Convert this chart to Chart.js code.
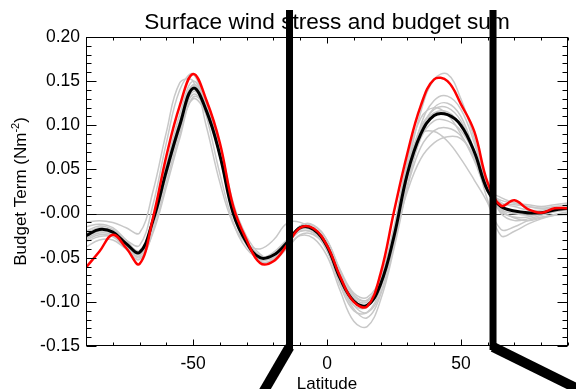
<!DOCTYPE html>
<html>
<head>
<meta charset="utf-8">
<title>Surface wind stress and budget sum</title>
<script src="https://cdn.jsdelivr.net/npm/chart.js@4/dist/chart.umd.min.js"></script>
<style>
  html, body { margin: 0; padding: 0; background: #ffffff; }
  #budget { display: block; }
</style>
</head>
<body>
<canvas id="budget" width="576" height="389"></canvas>
<script>
// Latitude grid (degrees) shared by every curve
const latitudes = [
  -90, -85, -80, -75, -70, -65, -60, -55, -50, -45, -40, -35, -30,
  -25, -20, -15, -10, -5, 0, 5, 10, 15, 20, 25, 30, 35, 40, 45, 50,
  55, 60, 65, 70, 75, 80, 85, 90
];

// Observed surface wind stress (red)
const observed = [
  -0.061, -0.043, -0.024, -0.039, -0.057, -0.005, 0.065, 0.122, 0.158, 0.128, 0.080, 0.008, -0.030,
  -0.056, -0.054, -0.036, -0.016, -0.017, -0.036, -0.072, -0.100, -0.105, -0.068, 0.002, 0.068, 0.122,
  0.152, 0.150, 0.124, 0.093, 0.035, 0.009, 0.015, 0.005, 0.001, 0.006, 0.006
];

// Ensemble mean budget sum (black)
const ensembleMean = [
  -0.025, -0.018, -0.021, -0.034, -0.044, -0.008, 0.048, 0.100, 0.142, 0.116, 0.066, 0.000, -0.033,
  -0.050, -0.047, -0.033, -0.016, -0.018, -0.037, -0.074, -0.099, -0.104, -0.080, -0.026, 0.045, 0.090,
  0.111, 0.112, 0.100, 0.070, 0.026, 0.008, 0.003, 0.001, 0.001, 0.004, 0.006
];

// Individual model budget sums (grey)
const run01 = [
  -0.020, -0.014, -0.018, -0.030, -0.036, 0.010, 0.080, 0.140, 0.158, 0.110, 0.045, -0.010, -0.040,
  -0.050, -0.044, -0.030, -0.020, -0.022, -0.042, -0.082, -0.110, -0.112, -0.085, -0.030, 0.050, 0.115,
  0.152, 0.158, 0.130, 0.085, 0.030, 0.012, 0.010, 0.008, 0.006, 0.005, 0.005
];
const run02 = [
  -0.030, -0.024, -0.026, -0.040, -0.052, -0.020, 0.035, 0.090, 0.130, 0.112, 0.065, 0.004, -0.032,
  -0.052, -0.050, -0.035, -0.020, -0.022, -0.040, -0.078, -0.108, -0.118, -0.092, -0.035, 0.040, 0.100,
  0.128, 0.133, 0.118, 0.080, 0.030, 0.005, 0.000, -0.002, 0.000, 0.003, 0.004
];
const run03 = [
  -0.038, -0.030, -0.030, -0.040, -0.048, -0.015, 0.042, 0.095, 0.135, 0.118, 0.070, 0.008, -0.030,
  -0.048, -0.050, -0.038, -0.025, -0.028, -0.048, -0.088, -0.122, -0.128, -0.098, -0.040, 0.030, 0.090,
  0.120, 0.125, 0.110, 0.070, 0.015, -0.018, -0.015, -0.008, -0.004, -0.002, -0.001
];
const run04 = [
  -0.015, -0.012, -0.016, -0.030, -0.045, -0.005, 0.055, 0.112, 0.150, 0.122, 0.068, 0.000, -0.035,
  -0.052, -0.048, -0.032, -0.015, -0.016, -0.034, -0.070, -0.096, -0.100, -0.075, -0.018, 0.060, 0.108,
  0.120, 0.112, 0.090, 0.060, 0.025, 0.015, 0.012, 0.010, 0.008, 0.010, 0.012
];
const run05 = [
  -0.028, -0.022, -0.024, -0.036, -0.046, -0.012, 0.045, 0.098, 0.138, 0.120, 0.072, 0.006, -0.030,
  -0.048, -0.047, -0.034, -0.018, -0.020, -0.038, -0.074, -0.100, -0.104, -0.080, -0.030, 0.030, 0.075,
  0.094, 0.097, 0.088, 0.062, 0.025, 0.004, -0.005, -0.008, -0.005, -0.001, 0.002
];
const run06 = [
  -0.022, -0.016, -0.020, -0.032, -0.042, -0.006, 0.052, 0.105, 0.145, 0.118, 0.064, -0.002, -0.036,
  -0.052, -0.048, -0.033, -0.014, -0.014, -0.030, -0.064, -0.090, -0.095, -0.072, -0.015, 0.055, 0.090,
  0.093, 0.082, 0.062, 0.038, 0.012, -0.025, -0.020, -0.012, -0.006, -0.002, 0.000
];
const run07 = [
  -0.026, -0.020, -0.022, -0.034, -0.043, -0.010, 0.045, 0.098, 0.140, 0.118, 0.068, 0.002, -0.032,
  -0.050, -0.048, -0.034, -0.017, -0.019, -0.036, -0.070, -0.094, -0.098, -0.076, -0.028, 0.025, 0.062,
  0.080, 0.087, 0.085, 0.065, 0.032, 0.000, -0.008, -0.006, -0.002, 0.002, 0.004
];
const run08 = [
  -0.010, -0.008, -0.010, -0.016, -0.022, 0.025, 0.092, 0.148, 0.150, 0.098, 0.035, -0.012, -0.034,
  -0.040, -0.030, -0.011, -0.010, -0.020, -0.042, -0.078, -0.104, -0.106, -0.082, -0.026, 0.045, 0.095,
  0.118, 0.120, 0.105, 0.070, 0.028, 0.018, 0.012, 0.008, 0.006, 0.008, 0.010
];
const run09 = [
  -0.032, -0.026, -0.026, -0.036, -0.050, -0.022, 0.030, 0.085, 0.132, 0.120, 0.078, 0.012, -0.026,
  -0.046, -0.052, -0.040, -0.024, -0.024, -0.040, -0.076, -0.104, -0.112, -0.090, -0.036, 0.032, 0.085,
  0.105, 0.105, 0.094, 0.068, 0.028, 0.002, -0.004, -0.004, 0.000, 0.004, 0.006
];
const run10 = [
  -0.024, -0.018, -0.020, -0.036, -0.048, -0.010, 0.050, 0.104, 0.146, 0.124, 0.072, 0.004, -0.034,
  -0.054, -0.052, -0.036, -0.014, -0.013, -0.030, -0.066, -0.092, -0.098, -0.076, -0.022, 0.048, 0.098,
  0.114, 0.115, 0.100, 0.072, 0.030, 0.012, 0.008, 0.004, 0.004, 0.006, 0.008
];
const modelRuns = [run01, run02, run03, run04, run05, run06, run07, run08, run09, run10];

// Labelled (major) ticks; the other ticks are unlabelled minors
const xMajorTicks = [-50, 0, 50];
const xTickLabels = ["-50", "0", "50"];
const yMajorTicks = [-0.15, -0.10, -0.05, 0.00, 0.05, 0.10, 0.15, 0.20];
const yTickLabels = ["-0.15", "-0.10", "-0.05", "-0.00", "0.05", "0.10", "0.15", "0.20"];

// Latitudes of the two section markers drawn over the plot
const markerLatitudes = [-14, 62];

const FONT = '"Liberation Sans", Arial, Helvetica, sans-serif';

const toPoints = (values) => latitudes.map((lat, i) => ({ x: lat, y: values[i] }));

const labelFor = (value, majors, labels) => {
  const i = majors.findIndex((m) => Math.abs(m - value) < 1e-6);
  return i >= 0 ? labels[i] : "";
};

const datasets = [
  { label: "Observed", data: toPoints(observed), borderColor: "#ff0000", borderWidth: 2.5 },
  { label: "Ensemble mean", data: toPoints(ensembleMean), borderColor: "#000000", borderWidth: 3 },
];
modelRuns.forEach((run, i) => {
  datasets.push({
    label: "Model " + (i + 1),
    data: toPoints(run),
    borderColor: "#c8c8c8",
    borderWidth: 1.5,
  });
});

// Zero line, box frame with inward ticks, titles and section markers
const frame = {
  id: "frame",
  beforeDatasetsDraw(chart) {
    const { ctx, chartArea: a, scales } = chart;
    const y0 = Math.round(scales.y.getPixelForValue(0)) + 0.5;
    ctx.save();
    ctx.strokeStyle = "#444444";
    ctx.lineWidth = 1;
    ctx.beginPath();
    ctx.moveTo(a.left, y0);
    ctx.lineTo(a.right, y0);
    ctx.stroke();
    ctx.restore();
  },
  afterDatasetsDraw(chart) {
    const { ctx, chartArea: a, scales } = chart;
    const L = Math.round(a.left) + 0.5, R = Math.round(a.right) - 0.5;
    const T = Math.round(a.top) + 0.5, B = Math.round(a.bottom) - 0.5;
    ctx.save();
    ctx.strokeStyle = "#000000";
    ctx.lineWidth = 1;
    ctx.strokeRect(L, T, R - L, B - T);
    ctx.beginPath();
    scales.x.ticks.forEach((t) => {
      const px = Math.round(scales.x.getPixelForValue(t.value)) + 0.5;
      const len = labelFor(t.value, xMajorTicks, xTickLabels) ? 6 : 3;
      ctx.moveTo(px, B); ctx.lineTo(px, B - len);
      ctx.moveTo(px, T); ctx.lineTo(px, T + len);
    });
    scales.y.ticks.forEach((t) => {
      const py = Math.round(scales.y.getPixelForValue(t.value)) + 0.5;
      const len = labelFor(t.value, yMajorTicks, yTickLabels) ? 10 : 5;
      ctx.moveTo(L, py); ctx.lineTo(L + len, py);
      ctx.moveTo(R, py); ctx.lineTo(R - len, py);
    });
    ctx.stroke();
    ctx.restore();
  },
  afterDraw(chart) {
    const { ctx, chartArea: a, scales } = chart;
    const cx = (a.left + a.right) / 2;
    ctx.save();
    ctx.fillStyle = "#000000";

    // chart title
    ctx.font = "22.6px " + FONT;
    ctx.textAlign = "center";
    ctx.textBaseline = "alphabetic";
    ctx.fillText("Surface wind stress and budget sum", cx, 29);

    // x axis title
    ctx.font = "17px " + FONT;
    ctx.fillText("Latitude", cx, 389);

    // y axis title with superscript unit
    const main = "Budget Term (Nm", sup = "-2", close = ")";
    ctx.font = "17px " + FONT;
    const wMain = ctx.measureText(main).width, wClose = ctx.measureText(close).width;
    ctx.font = "11px " + FONT;
    const wSup = ctx.measureText(sup).width;
    const total = wMain + wSup + wClose;
    ctx.translate(26, (a.top + a.bottom) / 2);
    ctx.rotate(-Math.PI / 2);
    ctx.textAlign = "left";
    let x = -total / 2;
    ctx.font = "17px " + FONT;
    ctx.fillText(main, x, 0);
    x += wMain;
    ctx.font = "11px " + FONT;
    ctx.fillText(sup, x, -7);
    x += wSup;
    ctx.font = "17px " + FONT;
    ctx.fillText(close, x, 0);
    ctx.restore();

    // section markers: vertical bar down to the x axis, then a slanted leg
    const legs = [[-25, 43], [78, 38.5]];
    ctx.save();
    ctx.strokeStyle = "#000000";
    ctx.lineCap = "butt";
    markerLatitudes.forEach((lat, i) => {
      const px = scales.x.getPixelForValue(lat);
      const corner = a.bottom + 1;
      ctx.lineWidth = 7;
      ctx.beginPath();
      ctx.moveTo(px, 10);
      ctx.lineTo(px, corner + 3);
      ctx.stroke();
      ctx.lineWidth = 10;
      ctx.beginPath();
      ctx.moveTo(px, corner);
      ctx.lineTo(px + legs[i][0] * 2, corner + legs[i][1] * 2);
      ctx.stroke();
    });
    ctx.restore();
  },
};

new Chart(document.getElementById("budget"), {
  type: "line",
  data: { datasets: datasets },
  plugins: [frame],
  options: {
    responsive: false,
    animation: false,
    events: [],
    layout: { padding: { top: 37, right: 1, left: 0, bottom: 0 } },
    elements: {
      line: { tension: 0.4, fill: false },
      point: { radius: 0 },
    },
    plugins: {
      legend: { display: false },
      title: { display: false },
      tooltip: { enabled: false },
    },
    scales: {
      x: {
        type: "linear",
        min: -90,
        max: 90,
        grid: { display: false, drawTicks: false },
        border: { display: false },
        afterFit: (scale) => { scale.height = 43; },
        ticks: {
          stepSize: 10,
          autoSkip: false,
          maxRotation: 0,
          padding: 8,
          color: "#000000",
          font: { size: 17.5, family: FONT },
          callback: (value) => labelFor(value, xMajorTicks, xTickLabels),
        },
      },
      y: {
        type: "linear",
        min: -0.15,
        max: 0.20,
        grid: { display: false, drawTicks: false },
        border: { display: false },
        afterFit: (scale) => { scale.width = 86; },
        ticks: {
          stepSize: 0.01,
          autoSkip: false,
          padding: 6,
          color: "#000000",
          font: { size: 17.5, family: FONT },
          callback: (value) => labelFor(value, yMajorTicks, yTickLabels),
        },
      },
    },
  },
});
</script>
</body>
</html>
